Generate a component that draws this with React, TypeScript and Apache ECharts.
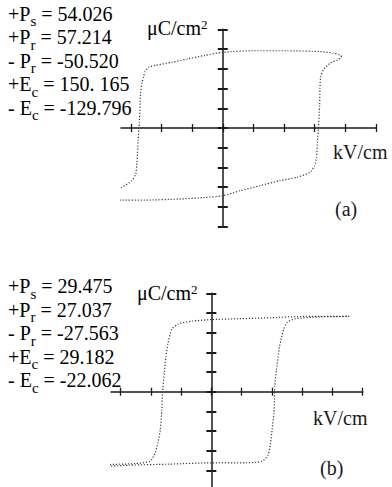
import React, { useEffect, useRef } from "react";
import * as echarts from "echarts";

// ---------- (a) : E in kV/cm, P in μC/cm² ----------
const aXMin = -166;
const aXMax = 250;
const aXTickMin = -150;
const aXStep = 50;
const aYMin = -75;
const aYMax = 75;
const aYStep = 15;
// branch coming down from +saturation to -saturation
const aDescending: [number, number][] = [
  [194, 54.3], [191, 55.6], [180, 56.9], [159, 58.1], [104, 58.7], [50, 58.7],
  [0, 57.5], [-29, 55.2], [-56, 52.6], [-83, 49.9], [-110, 47.6], [-121, 46.2],
  [-127, 42.8], [-129, 39.0], [-132, 34.0], [-134, 26.3], [-136, 4.6],
  [-138, -9.4], [-140, -26.0], [-142, -34.9], [-148, -40.0], [-165, -45.1],
  [-181, -49.0], [-197, -51.5],
];
// branch going up from -saturation to +saturation
const aAscending: [number, number][] = [
  [-197, -52.3], [-176, -54.8], [-127, -54.8], [-72, -54.0], [-29, -52.8],
  [0, -51.5], [28, -47.7], [61, -43.8], [93, -40.0], [121, -37.5], [142, -33.7],
  [150, -28.5], [153, -22.2], [154.5, -9.4], [156, -0.5], [158, 17.4],
  [158.6, 30.1], [159.7, 39.0], [164, 44.1], [175, 49.3], [188, 51.8], [194, 54.3],
];

// ---------- (b) ----------
const bXMin = -46.4;
const bXMax = 70;
const bXTickMin = -42;
const bXStep = 14;
const bYMin = -37.5;
const bYMax = 37.5;
const bYStep = 7.5;
const bDescending: [number, number][] = [
  [63.7, 28.7], [43.6, 28.7], [28.1, 28.2], [12.7, 27.8], [0.3, 27.5],
  [-9.0, 26.9], [-15.2, 25.9], [-18.2, 24.0], [-19.0, 22.1], [-20.1, 18.3],
  [-21.0, 13.3], [-21.7, 7.6], [-22.6, -0.6], [-22.9, -6.9], [-23.6, -14.5],
  [-24.7, -19.5], [-26.0, -23.3], [-28.3, -26.5], [-35.2, -27.4], [-49.1, -27.8],
  [-56.1, -28.1],
];
const bAscending: [number, number][] = [
  [-56.1, -28.7], [-37.6, -28.0], [-19.0, -27.6], [0, -27.1], [15.8, -27.1],
  [23.5, -26.5], [26.3, -24.0], [27.4, -19.5], [28.1, -14.5], [28.9, -8.2],
  [29.2, -3.1], [29.3, 1.9], [30.1, 8.2], [30.9, 13.3], [31.5, 17.0],
  [32.5, 20.8], [33.5, 24.0], [35.1, 26.5], [38.9, 27.8], [50.5, 28.5],
  [63.7, 28.7],
];

// ---------- annotation texts ----------
const annotA: [string, string, string][] = [
  ["+P", "s", " = 54.026"],
  ["+P", "r", " = 57.214"],
  ["- P", "r", " = -50.520"],
  ["+E", "c", " = 150. 165"],
  ["- E", "c", " = -129.796"],
];
const annotB: [string, string, string][] = [
  ["+P", "s", " = 29.475"],
  ["+P", "r", " = 27.037"],
  ["- P", "r", " = -27.563"],
  ["+E", "c", " = 29.182"],
  ["- E", "c", " = -22.062"],
];
const yUnit = "μC/cm";
const xUnit = "kV/cm";
const panelLabels = ["(a)", "(b)"];

const FONT = "Liberation Serif";
const INK = "#1a1a1a";
const FS = 20;

// panel geometry (pixels)
const PA = { left: 121, right: 376, top: 29.3, height: 197.4 };
const PB = { left: 111, right: 362.7, top: 293.3, height: 196.8 };

function tickGridLeft(p: typeof PA, min: number, max: number, tickMin: number) {
  return p.left + ((tickMin - min) / (max - min)) * (p.right - p.left);
}

const noLabel = { show: false };
const noSplit = { show: false };

function mainX(gridIndex: number, min: number, max: number, zeroOn: number) {
  return {
    type: "value", gridIndex, min, max,
    splitLine: noSplit, axisLabel: noLabel,
    axisLine: { show: true, onZero: true, onZeroAxisIndex: zeroOn, lineStyle: { color: INK, width: 1.5 } },
    axisTick: { show: false },
  };
}
function tickX(gridIndex: number, min: number, max: number, step: number, inside: boolean, zeroOn: number) {
  return {
    type: "value", gridIndex, min, max, interval: step, position: "bottom",
    splitLine: noSplit, axisLabel: noLabel,
    axisLine: { show: false, onZero: true, onZeroAxisIndex: zeroOn },
    axisTick: { show: true, inside, length: 4, lineStyle: { color: INK, width: 1.3 } },
  };
}
function tickY(gridIndex: number, min: number, max: number, step: number, inside: boolean, line: boolean, zeroOn: number) {
  return {
    type: "value", gridIndex, min, max, interval: step, position: "left",
    splitLine: noSplit, axisLabel: noLabel,
    axisLine: { show: line, onZero: true, onZeroAxisIndex: zeroOn, lineStyle: { color: INK, width: 1.5 } },
    axisTick: { show: true, inside, length: 5, lineStyle: { color: INK, width: 2 } },
  };
}
function helperY(gridIndex: number, min: number, max: number) {
  return {
    type: "value", gridIndex, min, max,
    splitLine: noSplit, axisLabel: noLabel,
    axisLine: { show: false, onZero: false }, axisTick: { show: false },
  };
}

function loop(data: [number, number][], xi: number, yi: number) {
  return {
    type: "line",
    xAxisIndex: xi,
    yAxisIndex: yi,
    data,
    symbol: "none",
    showSymbol: false,
    clip: false,
    smooth: 0.2,
    lineStyle: { color: "#3a3a3a", width: 1.2, type: [1.2, 1.8] },
    z: 3,
  };
}

const annRich = {
  m: { fontFamily: FONT, fontSize: FS, lineHeight: FS, verticalAlign: "top", color: INK },
  s: { fontFamily: FONT, fontSize: 15, lineHeight: 15, verticalAlign: "top", padding: [10, 0, 0, 0], color: INK },
};
const unitRich = {
  m: { fontFamily: FONT, fontSize: FS, lineHeight: FS, verticalAlign: "bottom", padding: [4, 0, 0, 0], color: INK },
  p: { fontFamily: FONT, fontSize: 13, lineHeight: 13, verticalAlign: "top", color: INK },
};

function annotations(rows: [string, string, string][], firstCenter: number, gap: number) {
  return rows.map((r, i) => ({
    type: "text",
    x: 8,
    y: firstCenter + i * gap - FS / 2,
    z: 10,
    style: {
      text: `{m|${r[0]}}{s|${r[1]}}{m|${r[2]}}`,
      rich: annRich,
      fontFamily: FONT,
      verticalAlign: "top",
      align: "left",
    },
  }));
}

function unitY(x: number, center: number) {
  return {
    type: "text",
    x,
    y: center - 14,
    z: 10,
    style: { text: `{m|${yUnit}}{p|2}`, rich: unitRich, fontFamily: FONT, verticalAlign: "top", align: "left" },
  };
}

function plainText(text: string, x: number, center: number) {
  return {
    type: "text",
    x,
    y: center,
    z: 10,
    style: { text, fontFamily: FONT, fontSize: FS, fill: INK, verticalAlign: "middle", align: "left" },
  };
}

export default function App() {
  const ref = useRef<HTMLDivElement>(null);
  useEffect(() => {
    if (!ref.current) return;
    const chart = echarts.init(ref.current, undefined, { renderer: "svg" });
    const aTL = tickGridLeft(PA, aXMin, aXMax, aXTickMin);
    const bTL = tickGridLeft(PB, bXMin, bXMax, bXTickMin);
    chart.setOption({
      animation: false,
      backgroundColor: "#ffffff",
      grid: [
        { left: PA.left, top: PA.top, width: PA.right - PA.left, height: PA.height, outerBoundsMode: "none" },
        { left: PB.left, top: PB.top, width: PB.right - PB.left, height: PB.height, outerBoundsMode: "none" },
        { left: aTL, top: PA.top, width: PA.right - aTL, height: PA.height, outerBoundsMode: "none" },
        { left: bTL, top: PB.top, width: PB.right - bTL, height: PB.height, outerBoundsMode: "none" },
      ],
      xAxis: [
        mainX(0, aXMin, aXMax, 0),
        tickX(2, aXTickMin, aXMax, aXStep, false, 2),
        tickX(2, aXTickMin, aXMax, aXStep, true, 2),
        mainX(1, bXMin, bXMax, 3),
        tickX(3, bXTickMin, bXMax, bXStep, false, 5),
        tickX(3, bXTickMin, bXMax, bXStep, true, 5),
      ],
      yAxis: [
        tickY(0, aYMin, aYMax, aYStep, false, true, 0),
        tickY(0, aYMin, aYMax, aYStep, true, false, 0),
        helperY(2, aYMin, aYMax),
        tickY(1, bYMin, bYMax, bYStep, false, true, 3),
        tickY(1, bYMin, bYMax, bYStep, true, false, 3),
        helperY(3, bYMin, bYMax),
      ],
      series: [
        loop(aDescending, 0, 0),
        loop(aAscending, 0, 0),
        loop(bDescending, 3, 3),
        loop(bAscending, 3, 3),
      ],
      graphic: [
        ...annotations(annotA, 13.5, 23.5),
        ...annotations(annotB, 286, 23.5),
        unitY(147, 31.5),
        unitY(137, 296.5),
        plainText(xUnit, 333, 151.5),
        plainText(xUnit, 313, 418),
        plainText(panelLabels[0], 335, 209),
        plainText(panelLabels[1], 320, 468),
      ],
    });
    return () => chart.dispose();
  }, []);
  return (
    <div
      ref={ref}
      style={{ position: "absolute", left: 0, top: 0, width: 392, height: 487, background: "#fff" }}
    />
  );
}
